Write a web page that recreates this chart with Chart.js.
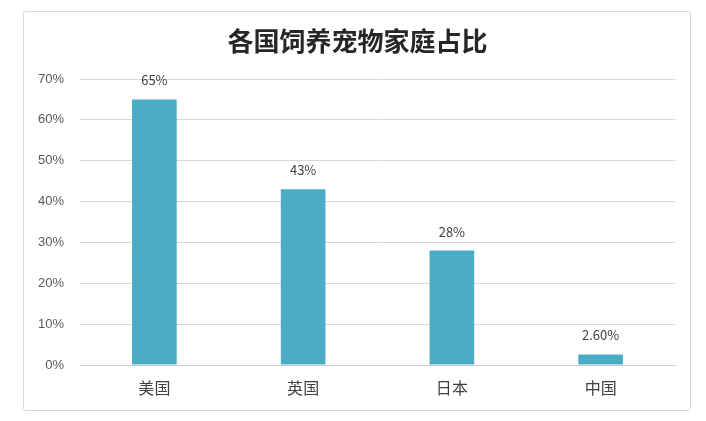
<!DOCTYPE html>
<html>
<head>
<meta charset="utf-8">
<script src="https://cdn.jsdelivr.net/npm/chart.js@4.4.1/dist/chart.umd.min.js"></script>
<style>
  html, body { margin: 0; padding: 0; background: #fff; }
  #wrap { position: relative; width: 706px; height: 421px; }
  #frame { position: absolute; left: 23px; top: 11px; width: 666px; height: 398px;
           border: 1px solid #d9d9d9; border-radius: 3px; }
  #chart { position: absolute; left: 0; top: 0; }
</style>
</head>
<body>
<div id="wrap">
  <div id="frame"></div>
  <canvas id="chart" width="706" height="421"></canvas>
</div>
<script>
var countries = ['美国', '英国', '日本', '中国'];
var shares = [65, 43, 28, 2.6];
var shareLabels = ['65%', '43%', '28%', '2.60%'];
var yTicks = [0, 10, 20, 30, 40, 50, 60, 70];

var cjk = '"Noto Sans CJK SC", "Noto Sans", sans-serif';

// labels over the bars, and nudge the title to the frame centre
var valueLabels = {
  id: 'valueLabels',
  afterLayout: function(chart) {
    if (chart.titleBlock) {
      chart.titleBlock.left += 10;
      chart.titleBlock.right += 10;
    }
  },
  afterDatasetsDraw: function(chart) {
    var ctx = chart.ctx;
    var meta = chart.getDatasetMeta(0);
    ctx.save();
    ctx.font = '13px ' + cjk;
    ctx.fillStyle = '#404040';
    ctx.textAlign = 'center';
    ctx.textBaseline = 'middle';
    meta.data.forEach(function(bar, i) {
      ctx.fillText(shareLabels[i], bar.x, bar.y - 19);
    });
    ctx.restore();
  }
};

new Chart(document.getElementById('chart'), {
  type: 'bar',
  data: {
    labels: countries,
    datasets: [{
      data: shares,
      backgroundColor: '#4BACC6',
      borderWidth: 0,
      barPercentage: 0.3,
      categoryPercentage: 1
    }]
  },
  options: {
    responsive: false,
    animation: false,
    layout: { padding: { left: 20, right: 31, top: 0, bottom: 22 } },
    plugins: {
      legend: { display: false },
      tooltip: { enabled: false },
      title: {
        display: true,
        text: '各国饲养宠物家庭占比',
        color: '#262626',
        font: { family: cjk, size: 26, weight: 'bold' },
        padding: { top: 25.4, bottom: 22.4 }
      }
    },
    scales: {
      x: {
        grid: { display: false, drawTicks: false },
        border: { color: '#d0d0d0' },
        ticks: { color: '#404040', font: { family: cjk, size: 16 }, padding: 13 },
        afterFit: function(s) { s.height = 34; }
      },
      y: {
        min: 0, max: 70,
        afterBuildTicks: function(s) { s.ticks = yTicks.map(function(v) { return { value: v }; }); },
        grid: { color: '#d9d9d9', drawTicks: false },
        border: { display: false },
        ticks: {
          color: '#595959',
          font: { family: '"Liberation Sans", sans-serif', size: 13 },
          padding: 16,
          callback: function(v) { return v + '%'; }
        },
        afterFit: function(s) { s.width = 60; }
      }
    }
  },
  plugins: [valueLabels]
});
</script>
</body>
</html>
